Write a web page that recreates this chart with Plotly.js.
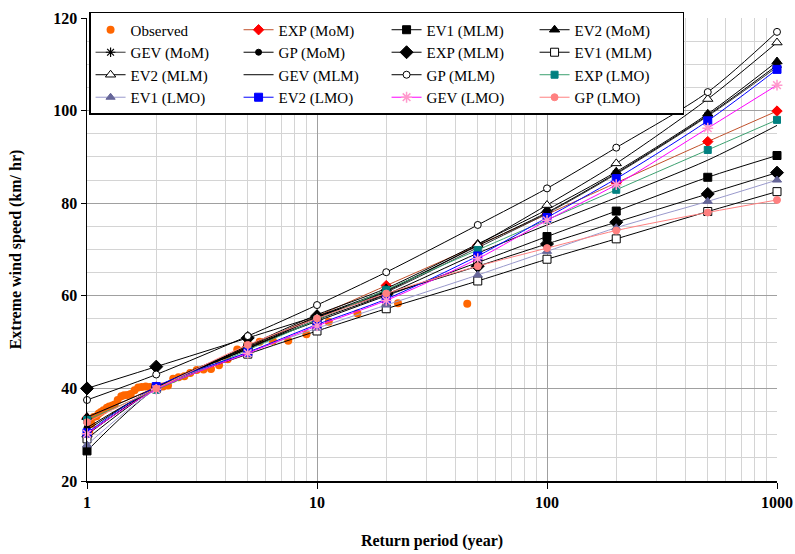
<!DOCTYPE html>
<html>
<head>
<meta charset="utf-8">
<script src="https://cdn.plot.ly/plotly-3.0.1.min.js"></script>
<style>html,body{margin:0;padding:0;background:#fff;}#chart{width:795px;height:554px;}</style>
</head>
<body>
<div id="chart"></div>
<script>
// Return periods for the fitted distributions
const returnPeriods = [1, 2, 5, 10, 20, 50, 100, 200, 500, 1000];

// Observed data (plotting positions, year) and wind speed (km/hr)
const obsT = [1.023,1.047,1.07,1.10,1.125,1.15,1.18,1.22,1.25,1.29,1.32,1.36,1.41,1.45,1.5,1.55,1.61,1.67,1.73,1.8,1.875,1.96,2.05,2.14,2.25,2.37,2.5,2.65,2.81,3.0,3.21,3.46,3.75,4.09,4.5,5.0,5.63,6.43,7.5,9.0,11.25,15.0,22.5,45.0];
const obsV = [30.4,32.3,33.8,34.0,34.6,34.9,35.3,35.8,36.1,36.3,36.5,37.5,38.3,38.5,38.6,38.8,39.6,40.2,40.3,40.4,40.3,40.2,40.3,40.4,40.6,42.1,42.4,42.6,43.3,44.0,44.1,44.2,45.0,46.3,48.4,49.7,50.1,50.3,50.3,51.7,54.4,56.2,58.4,58.3];

// Fitted series
const expMoM  = [33.6, 40.3, 49.0, 55.6, 62.2, 70.9, 77.6, 84.4, 93.3, 99.9];
const ev1MLMa = [26.5, 40.0, 48.8, 54.5, 60.0, 67.2, 72.8, 78.3, 85.6, 90.3];
const ev2MoM  = [33.8, 40.2, 49.2, 55.9, 61.6, 71.2, 78.6, 86.8, 99.3, 110.6];
const gevMoM  = [30.2, 40.0, 48.6, 55.2, 60.8, 70.4, 77.8, 86.3, 98.8, 109.4];
const gpMoM   = [31.5, 40.1, 48.9, 55.5, 61.2, 70.8, 78.0, 86.5, 99.0, 109.8];
const expMLM  = [40.0, 44.7, 50.9, 55.6, 60.3, 66.4, 71.2, 75.9, 82.0, 86.6];
const ev1MLMb = [29.1, 40.0, 47.4, 52.4, 57.2, 63.2, 67.9, 72.3, 78.2, 82.5];
const ev2MLM  = [30.0, 40.2, 48.6, 55.3, 61.0, 71.0, 79.6, 88.6, 102.5, 114.7];
const gevMLM  = [31.0, 40.2, 48.5, 54.8, 60.3, 69.2, 75.3, 81.2, 89.3, 96.8];
const gpMLM   = [37.5, 43.0, 51.3, 58.0, 65.1, 75.3, 83.2, 92.0, 104.0, 117.0];
const expLMO  = [33.2, 39.7, 48.3, 54.8, 61.3, 69.9, 76.4, 82.9, 91.5, 98.0];
const ev1LMO  = [27.8, 39.8, 47.8, 53.0, 58.0, 64.5, 69.6, 74.7, 80.4, 85.0];
const ev2LMO  = [30.4, 40.4, 47.8, 53.8, 59.3, 68.6, 76.9, 85.3, 97.8, 108.9];
const gevLMO  = [30.2, 39.8, 47.6, 53.5, 59.0, 68.0, 76.3, 84.0, 96.2, 105.5];
const gpLMO   = [32.7, 40.0, 49.4, 55.1, 60.5, 66.4, 70.3, 74.1, 78.0, 80.7];

const xTickVals = [1, 10, 100, 1000];
const xTickText = ['1', '10', '100', '1000'];

function fit(name, y, lineColor, symbol, mColor, mLine, size, mLineW) {
  const t = {
    type: 'scatter', mode: symbol ? 'lines+markers' : 'lines', name: name,
    x: returnPeriods, y: y, cliponaxis: false,
    line: {color: lineColor, width: 1, shape: 'spline', smoothing: 0.8}
  };
  if (symbol) {
    t.marker = {symbol: symbol, size: size, color: mColor,
      line: {color: mLine, width: mLineW || 1}};
  }
  return t;
}

const traces = [
  {type: 'scatter', mode: 'markers', name: 'Observed', x: obsT, y: obsV, cliponaxis: false,
   marker: {symbol: 'circle', size: 8, color: '#FF6600'}},
  fit('EXP (MoM)', expMoM, '#C0502A', 'diamond', '#FF0000', '#FF0000', 8),
  fit('EV1 (MLM)', ev1MLMa, '#000000', 'square', '#000000', '#000000', 8),
  fit('EV2 (MoM)', ev2MoM, '#000000', 'triangle-up', '#000000', '#000000', 9),
  fit('GEV (MoM)', gevMoM, '#333333', 'asterisk-open', '#000000', '#000000', 8, 1.2),
  fit('GP (MoM)', gpMoM, '#000000', 'circle', '#000000', '#000000', 6),
  fit('EXP (MLM)', expMLM, '#000000', 'diamond', '#000000', '#000000', 10),
  fit('EV1 (MLM)', ev1MLMb, '#000000', 'square', '#FFFFFF', '#000000', 8),
  fit('EV2 (MLM)', ev2MLM, '#000000', 'triangle-up', '#FFFFFF', '#000000', 9),
  fit('GEV (MLM)', gevMLM, '#000000', null, null, null, 0),
  fit('GP (MLM)', gpMLM, '#000000', 'circle', '#FFFFFF', '#000000', 7),
  fit('EXP (LMO)', expLMO, '#3CA070', 'square', '#008080', '#008080', 7),
  fit('EV1 (LMO)', ev1LMO, '#9999CC', 'triangle-up', '#666699', '#666699', 8),
  fit('EV2 (LMO)', ev2LMO, '#0000FF', 'square', '#0000FF', '#0000FF', 8),
  fit('GEV (LMO)', gevLMO, '#FF00FF', 'asterisk-open', '#FF99CC', '#FF99CC', 9, 1.5),
  fit('GP (LMO)', gpLMO, '#FF8080', 'circle', '#FF8080', '#FF8080', 7)
];

const serif = 'Liberation Serif, Times New Roman, serif';
const layout = {
  width: 795, height: 554,
  margin: {l: 87, r: 18, t: 18, b: 73},
  paper_bgcolor: '#FFFFFF', plot_bgcolor: '#FFFFFF',
  font: {family: serif, size: 16, color: '#000000'},
  showlegend: true,
  legend: {
    orientation: 'h', x: 0.003, y: 1.013, xanchor: 'left', yanchor: 'top',
    entrywidth: 103, entrywidthmode: 'pixels',
    bgcolor: '#FFFFFF', bordercolor: '#000000', borderwidth: 1.5,
    font: {family: serif, size: 15, color: '#000000'},
    traceorder: 'normal'
  },
  xaxis: {
    type: 'log', range: [0, 3],
    tickvals: xTickVals, ticktext: xTickText,
    tickfont: {family: serif, size: 16, color: '#000000', weight: 'bold'},
    showline: true, linecolor: '#000000', linewidth: 1.5, mirror: false,
    ticks: 'outside', ticklen: 6, tickcolor: '#000000',
    showgrid: true, gridcolor: '#A0A0A0', gridwidth: 1,
    minor: {dtick: 'D1', showgrid: true, gridcolor: '#D4D4D4', gridwidth: 1, ticks: ''},
    zeroline: false,
    title: {text: '<b>Return period (year)</b>', font: {family: serif, size: 16, color: '#000000'}, standoff: 25}
  },
  yaxis: {
    range: [20, 120], dtick: 20, tick0: 0,
    tickfont: {family: serif, size: 16, color: '#000000', weight: 'bold'},
    showline: true, linecolor: '#000000', linewidth: 1.5, mirror: false,
    ticks: 'outside', ticklen: 5, tickcolor: '#000000',
    showgrid: true, gridcolor: '#A0A0A0', gridwidth: 1,
    minor: {dtick: 5, showgrid: true, gridcolor: '#D4D4D4', gridwidth: 1, ticks: ''},
    zeroline: false,
    title: {text: '<b>Extreme wind speed (km/ hr)</b>', font: {family: serif, size: 16, color: '#000000'}, standoff: 27}
  }
};

Plotly.newPlot('chart', traces, layout, {displayModeBar: false, staticPlot: true});
</script>
</body>
</html>
